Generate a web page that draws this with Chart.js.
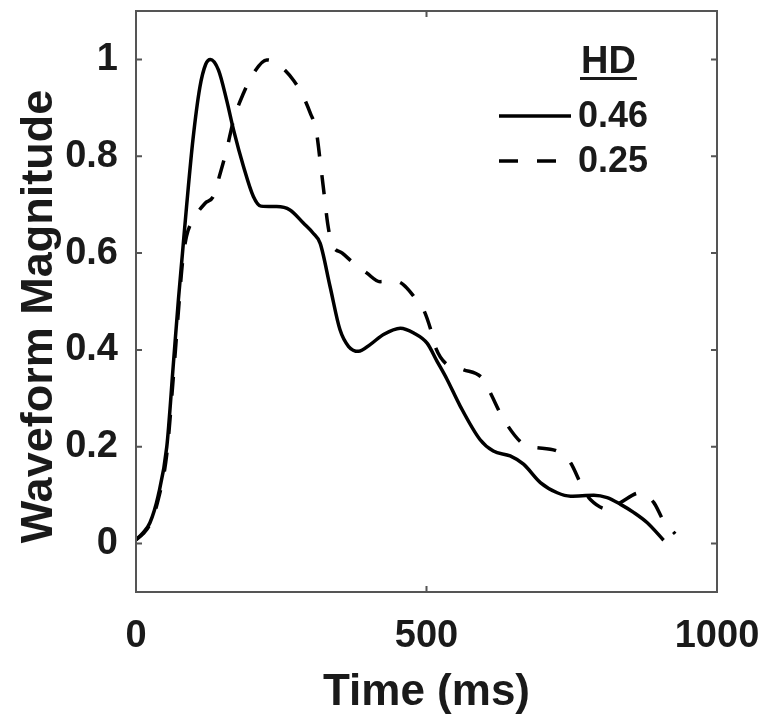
<!DOCTYPE html>
<html>
<head>
<meta charset="utf-8">
<script src="https://cdn.jsdelivr.net/npm/chart.js@4.4.0/dist/chart.umd.min.js"></script>
<style>
  html, body { margin: 0; padding: 0; background: #fff; }
</style>
</head>
<body>
<canvas id="chart" width="765" height="715"></canvas>
<script>
// solid curve (HD 0.46)
const solidTime = [0, 12, 24, 38, 53, 64, 73, 80, 87, 98, 110, 120, 128, 142, 156, 168, 185, 202, 215, 242, 265, 288, 305, 317, 334, 351, 366, 383, 403, 426, 455, 478, 501, 518, 535, 558, 592, 615, 644, 667, 696, 725, 748, 788, 811, 834, 857, 880, 908];
const solidMag = [0.008, 0.022, 0.043, 0.098, 0.2, 0.366, 0.504, 0.6, 0.696, 0.834, 0.943, 0.99, 1.0, 0.978, 0.916, 0.854, 0.779, 0.717, 0.697, 0.696, 0.689, 0.662, 0.641, 0.62, 0.531, 0.442, 0.407, 0.397, 0.411, 0.432, 0.445, 0.435, 0.414, 0.377, 0.34, 0.284, 0.215, 0.191, 0.181, 0.164, 0.126, 0.105, 0.098, 0.1, 0.095, 0.081, 0.064, 0.043, 0.007];

// dashed curve (HD 0.25)
const dashTime = [0, 12, 24, 38, 53, 64, 73, 80, 87, 99, 119, 133, 145, 156, 168, 185, 202, 225, 242, 271, 288, 300, 310, 318, 324, 330, 337, 355, 374, 397, 420, 443, 460, 478, 495, 509, 515, 535, 564, 598, 610, 633, 673, 690, 730, 748, 770, 782, 813, 834, 868, 891, 908, 928];
const dashMag = [0.008, 0.02, 0.04, 0.09, 0.185, 0.34, 0.48, 0.58, 0.635, 0.67, 0.703, 0.717, 0.765, 0.813, 0.875, 0.93, 0.971, 0.999, 0.992, 0.957, 0.923, 0.889, 0.854, 0.78, 0.72, 0.66, 0.62, 0.6, 0.58, 0.559, 0.541, 0.543, 0.535, 0.511, 0.483, 0.435, 0.407, 0.37, 0.359, 0.339, 0.311, 0.256, 0.201, 0.198, 0.188, 0.167, 0.112, 0.091, 0.071, 0.085, 0.105, 0.085, 0.047, 0.02];

const xTicks = [0, 500, 1000];
const yTicks = [0, 0.2, 0.4, 0.6, 0.8, 1];
const yTitle = 'Waveform Magnitude';
const legendTitle = 'HD';
const legendLabels = ['0.46', '0.25'];

const FONT = "'Liberation Sans', Arial, sans-serif";
const INK = '#1a1a1a';

const toPoints = (xs, ys) => xs.map((t, i) => ({ x: t, y: ys[i] }));

// keep the plot box where the reference has it
const noPad = s => { s.paddingTop = 0; s.paddingBottom = 0; s.paddingLeft = 0; s.paddingRight = 0; };

// box + inward ticks on all four sides
const framePlugin = {
  id: 'frame',
  afterDatasetsDraw(chart) {
    const { ctx, chartArea: a, scales: { x, y } } = chart;
    ctx.save();
    ctx.strokeStyle = '#555';
    ctx.lineWidth = 2;
    ctx.strokeRect(a.left, a.top, a.right - a.left, a.bottom - a.top);
    ctx.beginPath();
    xTicks.forEach(v => {
      const px = x.getPixelForValue(v);
      ctx.moveTo(px, a.bottom); ctx.lineTo(px, a.bottom - 6);
      ctx.moveTo(px, a.top); ctx.lineTo(px, a.top + 6);
    });
    yTicks.forEach(v => {
      const py = y.getPixelForValue(v);
      ctx.moveTo(a.left, py); ctx.lineTo(a.left + 6, py);
      ctx.moveTo(a.right, py); ctx.lineTo(a.right - 6, py);
    });
    ctx.stroke();
    ctx.restore();
  }
};

// y title sits a bit below the box centre in the reference
const yTitlePlugin = {
  id: 'yTitle',
  afterDraw(chart) {
    const { ctx, chartArea: a } = chart;
    ctx.save();
    ctx.translate(40, (a.top + a.bottom) / 2 + 15);
    ctx.rotate(-Math.PI / 2);
    ctx.font = `bold 45px ${FONT}`;
    ctx.fillStyle = INK;
    ctx.textAlign = 'center';
    ctx.textBaseline = 'middle';
    ctx.fillText(yTitle, 0, 0);
    ctx.restore();
  }
};

const legendPlugin = {
  id: 'hdLegend',
  afterDatasetsDraw(chart) {
    const { ctx, chartArea: a } = chart;
    const x0 = a.right - 218, x1 = a.right - 146, tx = a.right - 139;
    ctx.save();
    ctx.fillStyle = INK;
    ctx.textAlign = 'left';
    ctx.textBaseline = 'alphabetic';
    ctx.font = `bold 38px ${FONT}`;
    ctx.fillText(legendTitle, a.right - 136, a.top + 62);
    const w = ctx.measureText(legendTitle).width;
    ctx.fillRect(a.right - 137, a.top + 66, w + 2, 3);

    ctx.font = `bold 36px ${FONT}`;
    ctx.textBaseline = 'middle';
    chart.data.datasets.forEach((ds, i) => {
      const ly = a.top + 105 + i * 45;
      ctx.strokeStyle = ds.borderColor;
      ctx.lineWidth = ds.borderWidth;
      ctx.setLineDash(ds.borderDash || []);
      ctx.beginPath();
      ctx.moveTo(x0, ly);
      ctx.lineTo(x1, ly);
      ctx.stroke();
      ctx.fillText(legendLabels[i], tx, ly + 1);
    });
    ctx.restore();
  }
};

new Chart(document.getElementById('chart'), {
  type: 'line',
  data: {
    datasets: [
      {
        label: legendLabels[0],
        data: toPoints(solidTime, solidMag),
        borderColor: '#000',
        borderWidth: 3.5,
        pointRadius: 0,
        cubicInterpolationMode: 'monotone',
        fill: false
      },
      {
        label: legendLabels[1],
        data: toPoints(dashTime, dashMag),
        borderColor: '#000',
        borderWidth: 3.5,
        borderDash: [19, 19],
        pointRadius: 0,
        cubicInterpolationMode: 'monotone',
        fill: false
      }
    ]
  },
  options: {
    responsive: false,
    animation: false,
    devicePixelRatio: 1,
    layout: { padding: { top: 11, right: 48, left: 0, bottom: 0 } },
    plugins: {
      legend: { display: false },
      tooltip: { enabled: false }
    },
    scales: {
      x: {
        type: 'linear',
        min: 0,
        max: 1000,
        afterBuildTicks: s => { s.ticks = xTicks.map(v => ({ value: v })); },
        afterFit: s => { s.height = 123; noPad(s); },
        grid: { display: false, drawTicks: false },
        border: { display: false },
        ticks: {
          color: INK,
          padding: 22,
          maxRotation: 0,
          font: { family: FONT, size: 38, weight: 'bold' },
          callback: v => String(v)
        },
        title: {
          display: true,
          text: 'Time (ms)',
          color: INK,
          padding: { top: 0, bottom: 0 },
          font: { family: FONT, size: 44, weight: 'bold', lineHeight: 1 }
        }
      },
      y: {
        type: 'linear',
        min: -0.1,
        max: 1.1,
        afterBuildTicks: s => { s.ticks = yTicks.map(v => ({ value: v })); },
        afterFit: s => { s.width = 136; noPad(s); },
        grid: { display: false, drawTicks: false },
        border: { display: false },
        ticks: {
          color: INK,
          padding: 18,
          font: { family: FONT, size: 38, weight: 'bold' },
          callback: v => String(Number(v.toFixed(1)))
        }
      }
    }
  },
  plugins: [framePlugin, legendPlugin, yTitlePlugin]
});
</script>
</body>
</html>
